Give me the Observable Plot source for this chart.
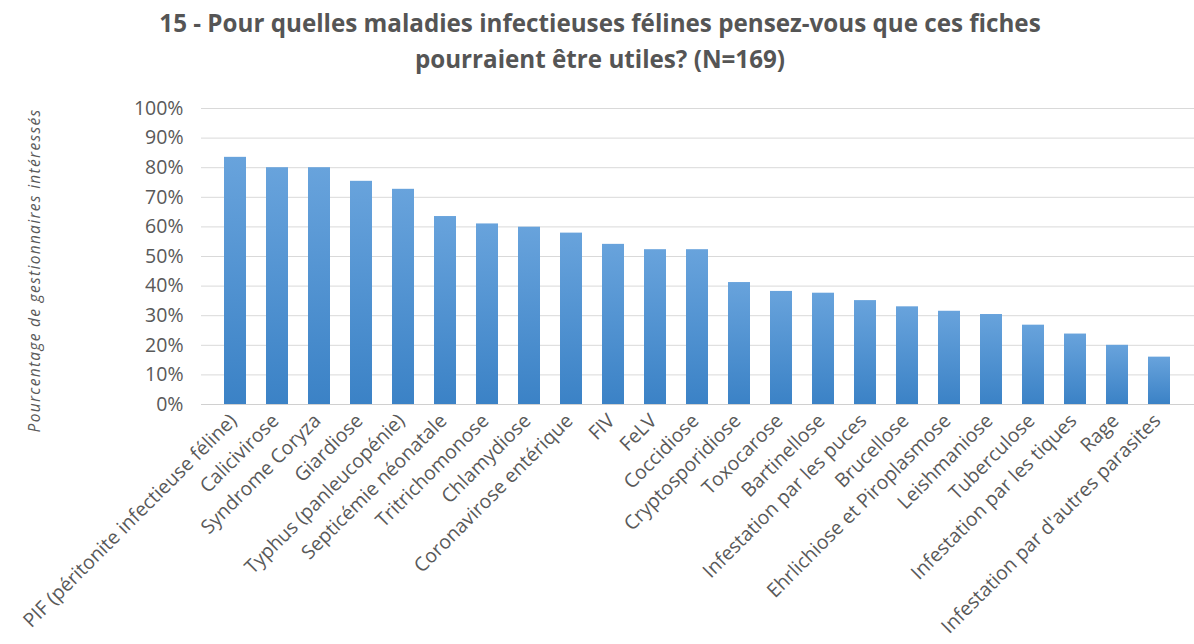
<!DOCTYPE html>
<html>
<head>
<meta charset="utf-8">
<script src="https://cdn.jsdelivr.net/npm/d3@7"></script>
<script src="https://cdn.jsdelivr.net/npm/@observablehq/plot@0.6"></script>
<style>
  html, body { margin: 0; padding: 0; background: #fff; }
  #wrap { width: 1194px; height: 644px; position: relative; overflow: hidden; font-family: "Open Sans", sans-serif; }
  #title { position: absolute; left: 0; top: 5px; width: 1200px; text-align: center; font-weight: bold; font-size: 24.2px; line-height: 36px; color: #555555; }
  #chart { position: absolute; left: 0; top: 90px; }
</style>
</head>
<body>
<div id="wrap">
  <div id="title">15 - Pour quelles maladies infectieuses félines pensez-vous que ces fiches<br>pourraient être utiles? (N=169)</div>
  <div id="chart"></div>
</div>
<script>
const categories = [
  "PIF (péritonite infectieuse féline)",
  "Calicivirose",
  "Syndrome Coryza",
  "Giardiose",
  "Typhus (panleucopénie)",
  "Septicémie néonatale",
  "Tritrichomonose",
  "Chlamydiose",
  "Coronavirose entérique",
  "FIV",
  "FeLV",
  "Coccidiose",
  "Cryptosporidiose",
  "Toxocarose",
  "Bartinellose",
  "Infestation par les puces",
  "Brucellose",
  "Ehrlichiose et Piroplasmose",
  "Leishmaniose",
  "Tuberculose",
  "Infestation par les tiques",
  "Rage",
  "Infestation par d'autres parasites"
];
const values = [0.835, 0.80, 0.80, 0.754, 0.727, 0.635, 0.61, 0.599, 0.579, 0.541, 0.523, 0.523, 0.412, 0.382, 0.376, 0.351, 0.33, 0.315, 0.304, 0.268, 0.238, 0.20, 0.16];
const yTicks = [0, 0.1, 0.2, 0.3, 0.4, 0.5, 0.6, 0.7, 0.8, 0.9, 1.0];
const yLabel = "Pourcentage de gestionnaires intéressés";

const data = categories.map((c, i) => ({category: c, value: values[i]}));

const chart = Plot.plot({
  width: 1194,
  height: 554,
  marginTop: 18,
  marginBottom: 240,
  marginLeft: 201,
  marginRight: 0,
  style: {fontFamily: "Open Sans, sans-serif", background: "transparent"},
  x: {domain: categories, padding: 0.47, label: null},
  y: {domain: [0, 1], label: null},
  marks: [
    Plot.gridY(yTicks, {stroke: "#d9d9d9", strokeOpacity: 1}),
    Plot.barY(data, {x: "category", y: "value", fill: "url(#barGrad)"}),
    Plot.ruleY([0], {stroke: "#d0d0d0"}),
    Plot.axisY(yTicks, {tickSize: 0, tickPadding: 18, tickFormat: d => Math.round(d * 100) + "%", fontSize: 19.5, fill: "#595959"}),
    Plot.axisX({tickSize: 0, tickPadding: 13, dx: -2, tickRotate: -45, fontSize: 19.5, fill: "#595959"}),
    Plot.text([yLabel], {frameAnchor: "left", dx: -166, dy: 14, rotate: -90, fontSize: 15.5, fontStyle: "italic", fill: "#595959", lineAnchor: "middle", textAnchor: "middle", className: "ylab"})
  ]
});

const ns = "http://www.w3.org/2000/svg";
const defs = document.createElementNS(ns, "defs");
const grad = document.createElementNS(ns, "linearGradient");
grad.setAttribute("id", "barGrad");
grad.setAttribute("x1", "0"); grad.setAttribute("y1", "0");
grad.setAttribute("x2", "0"); grad.setAttribute("y2", "1");
[["0", "#68a3dc"], ["1", "#3b82c6"]].forEach(([o, c]) => {
  const s = document.createElementNS(ns, "stop");
  s.setAttribute("offset", o); s.setAttribute("stop-color", c);
  grad.appendChild(s);
});
defs.appendChild(grad);
chart.insertBefore(defs, chart.firstChild);
d3.select(chart).selectAll(".ylab text").style("letter-spacing", "1.3px");

document.getElementById("chart").appendChild(chart);
</script>
</body>
</html>
